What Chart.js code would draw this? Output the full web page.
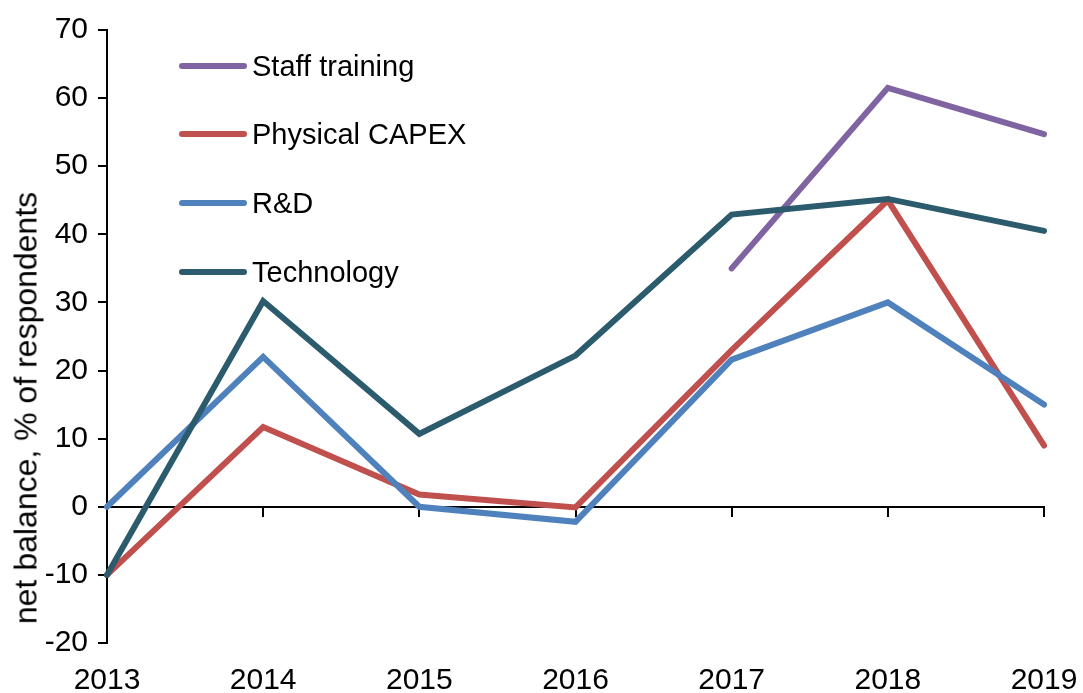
<!DOCTYPE html>
<html>
<head>
<meta charset="utf-8">
<script src="https://cdn.jsdelivr.net/npm/chart.js@4"></script>
<style>
  body { margin: 0; background: #fff; }
  #wrap { position: relative; width: 1083px; height: 693px; font-family: "Liberation Sans", Arial, sans-serif; }
  #legend { position: absolute; left: 179px; top: 0; }
  .item { position: absolute; left: 0; height: 34px; display: flex; align-items: center; white-space: nowrap; font-size: 29px; color: #000; }
  .swatch { width: 68px; height: 6px; border-radius: 3px; margin-right: 5px; }
  #ytitle { position: absolute; left: 26px; top: 408px; transform: translate(-50%, -50%) rotate(-90deg); white-space: nowrap; font-size: 32px; color: #000; }
</style>
</head>
<body>
<div id="wrap">
  <canvas id="chart" width="1083" height="693"></canvas>
  <div id="ytitle">net balance, % of respondents</div>
  <div id="legend"></div>
</div>
<script>
// data
const years = ['2013', '2014', '2015', '2016', '2017', '2018', '2019'];
const staffTraining = [null, null, null, null, 35, 61.5, 54.7];
const physicalCapex = [-10, 11.7, 1.8, -0.1, 23, 45, 9];
const rnd = [0, 22, 0, -2.2, 21.6, 30, 15];
const technology = [-10, 30.2, 10.7, 22.2, 42.9, 45.2, 40.5];
const yTicks = [-20, -10, 0, 10, 20, 30, 40, 50, 60, 70];

const series = [
  { label: 'Staff training', data: staffTraining, color: '#8064A2' },
  { label: 'Physical CAPEX', data: physicalCapex, color: '#C0504D' },
  { label: 'R&D', data: rnd, color: '#4F81BD' },
  { label: 'Technology', data: technology, color: '#2B5B6C' }
];

const font = { family: '"Liberation Sans", Arial, sans-serif', size: 30 };

// keep the plot box where the reference has it
const noSidePad = sc => { sc.paddingLeft = 0; sc.paddingRight = 0; };

new Chart(document.getElementById('chart'), {
  type: 'line',
  data: {
    labels: years,
    datasets: series.map((s, i) => ({
      label: s.label,
      data: s.data,
      borderColor: s.color,
      backgroundColor: s.color,
      borderWidth: 6,
      pointRadius: 0,
      tension: 0,
      borderCapStyle: 'round',
      order: series.length - i // later series drawn on top
    }))
  },
  options: {
    responsive: false,
    animation: false,
    layout: { padding: { top: 30, right: 39, left: 0, bottom: 0 } },
    plugins: { legend: { display: false }, tooltip: { enabled: false } },
    scales: {
      x: {
        position: 'bottom',
        grid: { display: false, drawTicks: false },
        border: { display: false },
        ticks: { font, color: '#000', padding: 20, maxRotation: 0, autoSkip: false },
        afterFit: sc => { sc.height = 50; noSidePad(sc); }
      },
      x0: {
        type: 'category',
        position: { y: 0 },
        grid: { drawOnChartArea: false, tickLength: 9, color: '#000', lineWidth: 2 },
        border: { color: '#000', width: 2 },
        ticks: { display: false },
        afterFit: noSidePad
      },
      y: {
        min: -20,
        max: 70,
        afterBuildTicks: sc => { sc.ticks = yTicks.map(v => ({ value: v })); },
        grid: { drawOnChartArea: false, tickLength: 9, color: '#000', lineWidth: 2 },
        border: { color: '#000', width: 2 },
        ticks: { font, color: '#000', padding: 10 },
        afterFit: sc => { sc.width = 107; }
      }
    }
  }
});

// legend drawn as html text
const rowsY = [66, 134, 203, 272];
document.getElementById('legend').innerHTML = series.map((s, i) => `
  <div class="item" style="top:${rowsY[i] - 17}px">
    <div class="swatch" style="background:${s.color}"></div>${s.label}
  </div>`).join('');
</script>
</body>
</html>
